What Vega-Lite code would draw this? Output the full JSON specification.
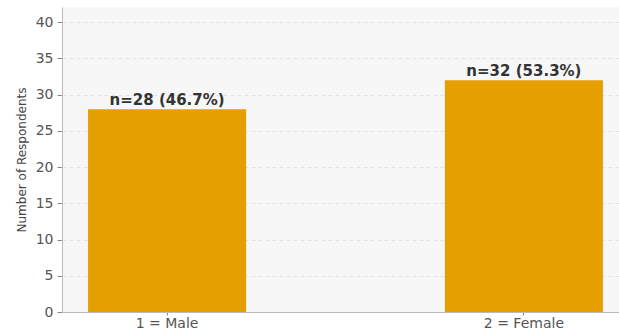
{
  "$schema": "https://vega.github.io/schema/vega-lite/v6.json",
  "autosize": {"type": "none"},
  "padding": {"left": 62, "top": 7, "right": 0, "bottom": 18},
  "width": 567,
  "height": 305,
  "background": "#ffffff",
  "data": {
    "values": [
      {"gender": "1 = Male", "count": 28, "label": "n=28 (46.7%)"},
      {"gender": "2 = Female", "count": 32, "label": "n=32 (53.3%)"}
    ]
  },
  "config": {
    "view": {"fill": "#f7f7f7", "stroke": null},
    "font": "DejaVu Sans"
  },
  "encoding": {
    "x": {
      "field": "gender",
      "type": "nominal",
      "sort": null,
      "scale": {"paddingInner": 0.557, "paddingOuter": 0.073},
      "axis": {
        "title": null,
        "labelAngle": 0,
        "labelFontSize": 14,
        "labelColor": "#555555",
        "labelPadding": 1,
        "tickColor": "#888888",
        "tickSize": 3,
        "domainColor": "#bbbbbb",
        "grid": false
      }
    },
    "y": {
      "field": "count",
      "type": "quantitative",
      "scale": {"domain": [0, 42.1], "nice": false},
      "axis": {
        "title": "Number of Respondents",
        "titleFontSize": 12,
        "titleFontWeight": "normal",
        "titleColor": "#444444",
        "titlePadding": 7,
        "values": [0, 5, 10, 15, 20, 25, 30, 35, 40],
        "labelFontSize": 14,
        "labelColor": "#555555",
        "labelPadding": 4,
        "tickColor": "#888888",
        "tickSize": 5,
        "domainColor": "#bbbbbb",
        "gridColor": "#dddddd",
        "gridDash": [4, 3],
        "gridWidth": 0.8
      }
    }
  },
  "layer": [
    {"mark": {"type": "bar", "color": "#e69f00"}},
    {
      "mark": {
        "type": "text",
        "baseline": "alphabetic",
        "dy": -4,
        "fontSize": 15,
        "fontWeight": "bold",
        "color": "#333333"
      },
      "encoding": {"text": {"field": "label"}}
    }
  ]
}
